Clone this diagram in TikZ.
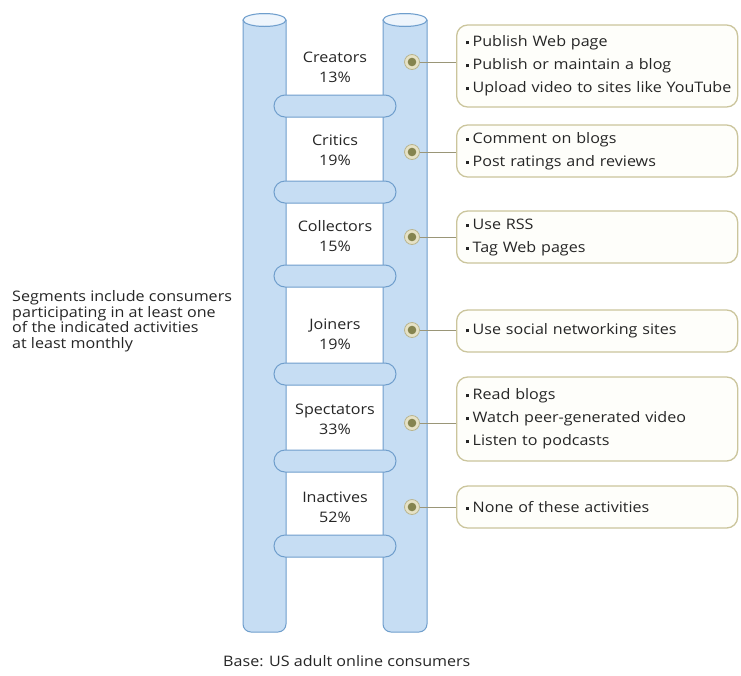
\documentclass[tikz,border=0pt]{standalone}
\usepackage{fontspec}
\setmainfont{Open Sans}[FakeStretch=1.11]
\definecolor{pole}{HTML}{C6DDF3}
\definecolor{poleedge}{HTML}{6F9ECC}
\definecolor{poletop}{HTML}{EEF5FC}
\definecolor{boxedge}{HTML}{CBC59C}
\definecolor{boxfill}{HTML}{FEFEFA}
\definecolor{dotring}{HTML}{E6E2C6}
\definecolor{dotedge}{HTML}{B9B58E}
\definecolor{dotcore}{HTML}{85844F}
\definecolor{conn}{HTML}{9A9678}
\definecolor{txt}{HTML}{262626}
\newcommand{\actline}[1]{\mbox{\raisebox{0.3ex}{\rule{3pt}{3pt}}\hspace{4pt}#1}}
\tikzset{
  polebody/.style={fill=pole, draw=poleedge, line width=1pt},
  rungbar/.style={fill=pole, draw=poleedge, line width=1pt, rounded corners=11pt},
  seglabel/.style={align=center, font=\fontsize{14.5}{20}\selectfont},
  dot/.style={circle, fill=dotring, draw=dotedge, line width=0.8pt, minimum size=15pt, inner sep=0pt},
  actbox/.style={anchor=west, draw=boxedge, fill=boxfill, line width=1.3pt, rounded corners=11pt,
    minimum width=281pt, align=left, text width=263pt, inner xsep=9pt,
    font=\fontsize{14.5}{23}\selectfont},
  conline/.style={draw=conn, line width=1pt}
}
\begin{document}
\begin{tikzpicture}[x=1pt,y=-1pt, text=txt, font=\fontsize{14.5}{17}\selectfont]
\useasboundingbox (0,0) rectangle (741,675);
\fill[white] (0,0) rectangle (741,675);
% poles
\foreach \xl/\xr in {243/286, 383/427} {
  \path[polebody, rounded corners=8pt] (\xl,20) -- (\xl,632) -- (\xr,632) -- (\xr,20);
  \path[polebody] ({(\xl+\xr)/2},20) ellipse [x radius={(\xr-\xl)/2}, y radius=6.5];
  \fill[poletop] ({(\xl+\xr)/2},20) ellipse [x radius={(\xr-\xl)/2-1}, y radius=5.5];
}
% rungs
\foreach \y in {106,192,276,374,461,546} {
  \path[rungbar] (274,\y-11) rectangle (396,\y+11);
}
% segment labels
\node[seglabel] (l1) at (335,67) {Creators\\13\%};
\node[seglabel] (l2) at (335,150) {Critics\\19\%};
\node[seglabel] (l3) at (335,236) {Collectors\\15\%};
\node[seglabel] (l4) at (335,334) {Joiners\\19\%};
\node[seglabel] (l5) at (335,419) {Spectators\\33\%};
\node[seglabel] (l6) at (335,507) {Inactives\\52\%};
% dots
\foreach \i/\y in {1/62,2/152,3/237,4/330,5/423,6/507} {
  \node[dot] (d\i) at (412,\y) {};
  \fill[dotcore] (d\i) circle (4.3);
}
% boxes
\node[actbox, minimum height=82pt] (b1) at (456,66) {\actline{Publish Web page}\\\actline{Publish or maintain a blog}\\\actline{Upload video to sites like YouTube}};
\node[actbox, minimum height=52pt] (b2) at (456,151) {\actline{Comment on blogs}\\\actline{Post ratings and reviews}};
\node[actbox, minimum height=52pt] (b3) at (456,237) {\actline{Use RSS}\\\actline{Tag Web pages}};
\node[actbox, minimum height=42pt] (b4) at (456,331) {\actline{Use social networking sites}};
\node[actbox, minimum height=84pt] (b5) at (456,419) {\actline{Read blogs}\\\actline{Watch peer-generated video}\\\actline{Listen to podcasts}};
\node[actbox, minimum height=42pt] (b6) at (456,507) {\actline{None of these activities}};
% connectors
\foreach \i in {1,...,6} {
  \draw[conline] (d\i.east) -- (d\i.east -| b\i.west);
}
% side note
\node[anchor=north west, align=left, inner xsep=0pt, font=\fontsize{14.5}{15.5}\selectfont] (note) at (12,287)
  {Segments include consumers\\participating in at least one\\of the indicated activities\\at least monthly};
% base
\node[anchor=west, inner xsep=0pt, font=\fontsize{14.5}{17}\selectfont] (base) at (223,661) {Base: US adult online consumers};
\end{tikzpicture}
\end{document}
